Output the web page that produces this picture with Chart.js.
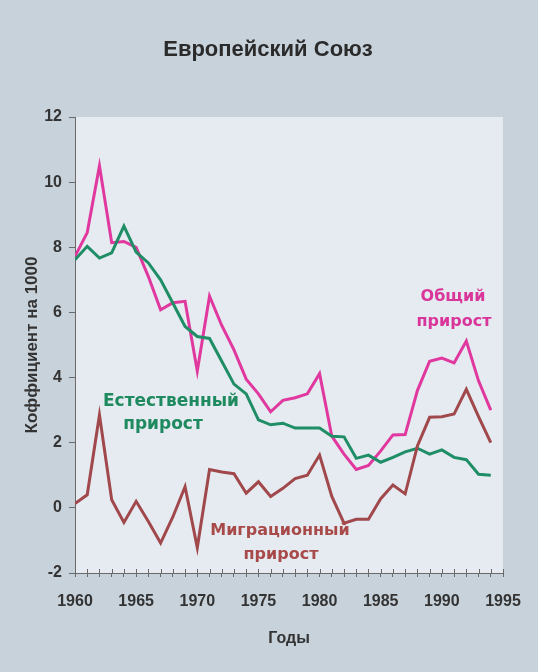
<!DOCTYPE html>
<html>
<head>
<meta charset="utf-8">
<script src="https://cdn.jsdelivr.net/npm/chart.js@4"></script>
<style>
  html, body { margin: 0; padding: 0; background: #c9d3db; }
  #wrap { position: relative; width: 538px; height: 672px; }
</style>
</head>
<body>
<div id="wrap"><canvas id="c" width="538" height="672"></canvas></div>
<script>
// ---- data ----
const years = [1960,1961,1962,1963,1964,1965,1966,1967,1968,1969,
               1970,1971,1972,1973,1974,1975,1976,1977,1978,1979,
               1980,1981,1982,1983,1984,1985,1986,1987,1988,1989,
               1990,1991,1992,1993,1994];
const totalGrowth = [7.72,8.45,10.5,8.14,8.18,8.0,7.1,6.08,6.3,6.34,
                     4.2,6.5,5.6,4.85,3.95,3.5,2.95,3.3,3.38,3.5,
                     4.12,2.2,1.65,1.18,1.3,1.75,2.24,2.25,3.6,4.5,
                     4.6,4.45,5.12,3.9,3.0];
const naturalGrowth = [7.62,8.03,7.67,7.83,8.65,7.85,7.52,7.0,6.29,5.57,
                       5.26,5.2,4.5,3.8,3.5,2.7,2.55,2.6,2.45,2.45,
                       2.45,2.2,2.18,1.52,1.62,1.4,1.55,1.72,1.83,1.65,
                       1.78,1.55,1.48,1.03,1.0];
const migrationGrowth = [0.13,0.4,2.85,0.25,-0.45,0.2,-0.42,-1.08,-0.28,0.65,
                         -1.22,1.18,1.1,1.05,0.45,0.8,0.35,0.6,0.9,1.0,
                         1.62,0.35,-0.47,-0.35,-0.35,0.28,0.7,0.43,1.9,2.78,
                         2.8,2.88,3.64,2.8,2.0];
const yTicks = [-2,0,2,4,6,8,10,12];
const xLabelYears = [1960,1965,1970,1975,1980,1985,1990,1995];
const titleText = 'Европейский Союз';
const yTitle = 'Коффициент на 1000';
const xTitle = 'Годы';
const seriesNames = ['Общий прирост','Естественный прирост','Миграционный прирост'];

// ---- helpers ----
const pts = arr => years.map((yr, i) => ({ x: yr, y: arr[i] }));

const bgPlugin = {
  id: 'bg',
  beforeDraw(chart) {
    const { ctx, chartArea: a } = chart;
    ctx.save();
    ctx.fillStyle = '#c8d2da';
    ctx.fillRect(0, 0, chart.width, chart.height);
    ctx.fillStyle = '#e5ebf0';
    ctx.fillRect(a.left, a.top, a.right - a.left, a.bottom - a.top);
    ctx.restore();
  }
};

// short tick marks that cross the x axis (above the line), positioned by the scale
const crossTicks = {
  id: 'crossTicks',
  afterDraw(chart) {
    const { ctx, scales: { x } } = chart;
    ctx.save();
    ctx.strokeStyle = '#6a6a6a';
    ctx.lineWidth = 1;
    ctx.beginPath();
    x.ticks.forEach(t => {
      const px = Math.round(x.getPixelForValue(t.value)) + 0.5;
      ctx.moveTo(px, x.top - 4);
      ctx.lineTo(px, x.top);
    });
    ctx.stroke();
    ctx.restore();
  }
};

const textPlugin = {
  id: 'texts',
  afterDatasetsDraw(chart) {
    const { ctx } = chart;
    ctx.save();
    ctx.textAlign = 'center';
    ctx.textBaseline = 'middle';
    // title
    ctx.fillStyle = '#2b2b2b';
    ctx.font = 'bold 22px "Liberation Sans", Arial, sans-serif';
    ctx.fillText(titleText, 268, 50);
    // series annotations
    ctx.font = 'bold 16px "DejaVu Sans", Verdana, sans-serif';
    const put = (txt, color, x, y) => { ctx.fillStyle = color; ctx.fillText(txt, x, y); };
    const [t1, t2] = seriesNames[0].split(' ');
    put(t1, '#d9359a', 453, 297);
    put(t2, '#d9359a', 454, 322);
    const [n1, n2] = seriesNames[1].split(' ');
    ctx.font = 'bold 17px "DejaVu Sans", Verdana, sans-serif';
    put(n1, '#1f8a60', 171, 402);
    put(n2, '#1f8a60', 163, 425);
    ctx.font = 'bold 16px "DejaVu Sans", Verdana, sans-serif';
    const [m1, m2] = seriesNames[2].split(' ');
    put(m1, '#a84a4a', 280, 531);
    put(m2, '#a84a4a', 281, 555);
    ctx.restore();
  }
};

const lineDs = (label, arr, color) => ({
  label, data: pts(arr), borderColor: color, backgroundColor: color,
  borderWidth: 3, pointRadius: 0, tension: 0, fill: false
});

new Chart(document.getElementById('c'), {
  type: 'line',
  data: {
    datasets: [
      lineDs(seriesNames[2], migrationGrowth, '#a0484c'),
      lineDs(seriesNames[1], naturalGrowth, '#1f8d66'),
      lineDs(seriesNames[0], totalGrowth, '#e0389e')
    ]
  },
  options: {
    responsive: false,
    animation: false,
    devicePixelRatio: 1,
    layout: { padding: { left: 0, right: 35, top: 117, bottom: 0 } },
    plugins: { legend: { display: false }, tooltip: { enabled: false }, title: { display: false } },
    scales: {
      x: {
        type: 'linear', min: 1960, max: 1995,
        afterFit(s) { s.height = 99; },
        afterBuildTicks(s) { s.ticks = years.concat([1995]).map(v => ({ value: v })); },
        ticks: {
          autoSkip: false, maxRotation: 0, padding: 15,
          color: '#333',
          font: { family: '"Liberation Sans", Arial, sans-serif', size: 16, weight: 'bold' },
          callback: v => xLabelYears.includes(v) ? String(v) : ''
        },
        grid: { drawOnChartArea: false, drawTicks: true, tickLength: 4, color: '#6a6a6a', lineWidth: 1 },
        border: { display: true, color: '#6a6a6a', width: 1 },
        title: {
          display: true, text: xTitle, color: '#333',
          font: { family: '"Liberation Sans", Arial, sans-serif', size: 16, weight: 'bold' },
          padding: { top: 0, bottom: 24 }
        }
      },
      y: {
        min: -2, max: 12,
        afterFit(s) { s.width = 75; },
        afterBuildTicks(s) { s.ticks = yTicks.map(v => ({ value: v })); },
        ticks: {
          padding: 7, color: '#333',
          font: { family: '"Liberation Sans", Arial, sans-serif', size: 16, weight: 'bold' }
        },
        grid: { drawOnChartArea: false, drawTicks: true, tickLength: 6, color: '#6a6a6a', lineWidth: 1 },
        border: { display: true, color: '#6a6a6a', width: 1 },
        title: {
          display: true, text: yTitle, color: '#333',
          font: { family: '"Liberation Sans", Arial, sans-serif', size: 17, weight: 'bold' },
          padding: { top: 22, bottom: 0 }
        }
      }
    }
  },
  plugins: [bgPlugin, crossTicks, textPlugin]
});
</script>
</body>
</html>
